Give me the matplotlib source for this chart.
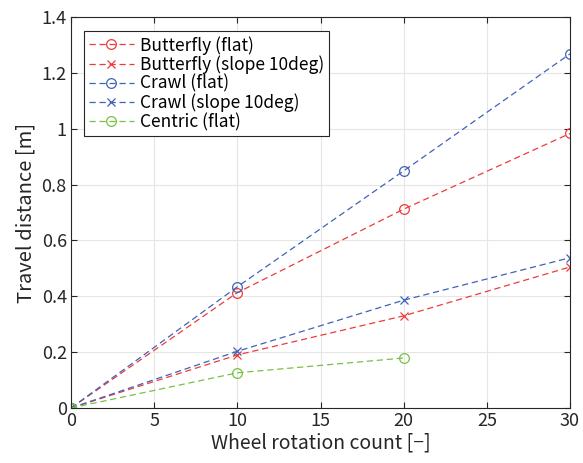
import matplotlib
matplotlib.use("Agg")
import matplotlib.pyplot as plt

plt.rcParams['font.family'] = ['Noto Sans CJK JP', 'DejaVu Sans']

x = [0, 10, 20, 30]
x_centric = [0, 10, 20]
butterfly_flat = [0, 0.413, 0.712, 0.983]
butterfly_slope = [0, 0.190, 0.330, 0.505]
crawl_flat = [0, 0.434, 0.849, 1.268]
crawl_slope = [0, 0.203, 0.386, 0.538]
centric_flat = [0, 0.126, 0.179]

red = '#ee3b3b'
blue = '#3f63b8'
green = '#77c244'

fig = plt.figure(figsize=(5.83, 4.63), dpi=100)
ax = fig.add_axes([71/583, 1-408/463, (570-71)/583, (408-17)/463])

common = dict(lw=0.9, mew=0.9, dashes=(5, 3))
ax.plot(x, butterfly_flat, '--o', color=red, mfc='none', ms=7, label='Butterfly (flat)', **common)
ax.plot(x, butterfly_slope, '--x', color=red, ms=5.5, label='Butterfly (slope 10deg)', **common)
ax.plot(x, crawl_flat, '--o', color=blue, mfc='none', ms=7, label='Crawl (flat)', **common)
ax.plot(x, crawl_slope, '--x', color=blue, ms=5.5, label='Crawl (slope 10deg)', **common)
ax.plot(x_centric, centric_flat, '--o', color=green, mfc='none', ms=7, label='Centric (flat)', **common)

ax.set_xlim(0, 30)
ax.set_ylim(0, 1.4)
ax.set_xticks([0, 5, 10, 15, 20, 25, 30])
ax.set_yticks([0, 0.2, 0.4, 0.6, 0.8, 1.0, 1.2, 1.4])
ax.set_yticklabels(['0', '0.2', '0.4', '0.6', '0.8', '1', '1.2', '1.4'])
ax.grid(True, color='#e6e6e6', lw=0.8)
ax.set_axisbelow(True)
ax.tick_params(direction='in', labelsize=13, colors='#262626', length=4, top=True, right=True, pad=3)
for s in ax.spines.values():
    s.set_color('#262626')
    s.set_linewidth(0.8)
ax.set_xlabel('Wheel rotation count [−]', fontsize=14, color='#262626', labelpad=2)
ax.set_ylabel('Travel distance [m]', fontsize=14.5, color='#262626', labelpad=4)

leg = ax.legend(loc='upper left', bbox_to_anchor=(13/499, 1-14/391), fontsize=12.5, fancybox=False,
                edgecolor='#262626', handlelength=2.6, borderaxespad=0.0, labelspacing=0.04,
                borderpad=0.28, handletextpad=0.35, framealpha=1)
leg.get_frame().set_linewidth(0.8)

fig.savefig('out.png', dpi=100)
